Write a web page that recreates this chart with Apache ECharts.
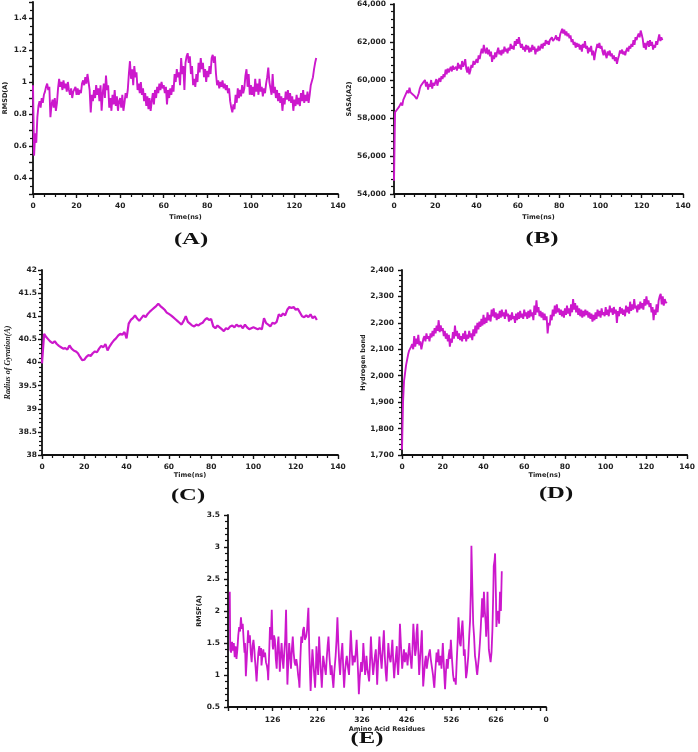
<!DOCTYPE html>
<html>
<head>
<meta charset="utf-8">
<script src="https://cdn.jsdelivr.net/npm/echarts@6/dist/echarts.min.js"></script>
<style>html,body{margin:0;padding:0;background:#fff;}#c{width:698px;height:752px;}</style>
</head>
<body>
<div id="c"></div>
<script>
// ---- DATA ----
const timeStepFine = 0.5;   // ns between samples for A, B, D
const timeStepCoarse = 1;   // ns between samples for C

const rmsdA = [
0.98,0.54,0.68,0.62,0.78,0.85,0.88,0.84,0.90,0.87,
0.92,0.94,0.97,0.99,0.95,0.97,0.78,0.86,0.89,0.84,
0.90,0.82,0.87,0.96,1.02,0.97,1.00,0.95,1.01,0.96,
0.99,0.94,1.00,0.95,0.92,0.96,0.90,0.94,0.93,0.97,
0.92,0.96,0.92,0.95,0.93,0.99,1.01,0.98,1.03,0.99,
1.05,1.00,0.95,0.81,0.92,0.88,0.95,0.90,0.98,0.92,
0.96,0.88,0.98,0.82,0.93,0.99,0.90,1.04,0.95,0.98,
0.84,0.90,0.82,0.92,0.86,0.95,0.85,0.91,0.82,0.88,
0.90,0.84,0.92,0.82,0.87,0.93,0.90,0.95,1.05,1.13,
1.02,1.08,0.98,1.10,1.03,1.06,0.95,0.99,0.93,1.00,
0.92,0.96,0.88,0.93,0.85,0.91,0.83,0.90,0.82,0.88,
0.93,0.86,0.95,0.90,0.97,0.93,0.99,0.95,1.00,0.96,
0.98,0.93,0.97,0.86,0.95,0.90,0.96,0.92,0.98,0.94,
1.05,1.00,1.08,1.03,1.06,0.98,1.15,1.05,1.10,0.95,
1.12,1.16,1.18,1.12,1.16,1.05,1.10,0.98,1.02,0.97,
1.05,1.00,1.12,1.06,1.15,1.08,1.12,1.03,1.08,1.00,
1.07,1.03,1.10,1.05,1.15,1.17,1.12,1.16,1.05,0.98,
1.01,0.96,1.00,0.97,1.01,0.96,0.99,0.95,0.98,0.93,
0.96,0.88,0.84,0.81,0.86,0.83,0.92,0.87,0.96,0.90,
0.95,0.91,0.98,0.93,0.96,1.04,1.08,0.97,1.05,0.92,
0.98,0.92,0.97,0.91,1.02,0.94,0.99,0.92,1.02,0.94,
0.97,0.91,0.96,0.93,0.99,1.03,1.09,1.00,0.96,0.92,
1.05,0.93,0.97,0.90,0.95,0.88,0.93,0.87,0.91,0.82,
0.90,0.86,0.94,0.89,0.95,0.88,0.93,0.87,0.91,0.82,
0.89,0.85,0.92,0.86,0.90,0.85,0.93,0.88,0.95,0.87,
0.92,0.88,0.94,0.87,0.92,0.98,0.97,1.03,1.08,1.12,
1.15];

const sasaB = [
54700,58300,58200,58450,58350,58600,58500,58800,58650,58950,
58900,59200,59100,59450,59300,59600,59350,59450,59250,59300,
59150,59250,59000,58950,59300,59550,59700,59600,59850,59750,
60000,59650,59900,59500,59800,59650,60000,59550,59850,59700,
59800,60050,59700,59950,60100,59900,60200,60050,60300,60150,
60550,60300,60600,60400,60500,60700,60450,60750,60550,60650,
60700,60500,60900,60600,60800,60550,61000,60700,60850,61100,
60600,60400,60700,60300,60500,60800,60650,61000,60800,60950,
61100,60900,61300,61100,61400,61650,61400,61850,61550,61400,
61700,61350,61600,61250,61500,60950,61300,61100,61450,61200,
61500,61700,61350,61550,61300,61600,61400,61750,61500,61650,
61400,61700,61550,61900,61650,61800,61600,62050,61800,62150,
61900,62250,61950,61700,61900,61600,61750,61500,61850,61600,
61800,61450,61700,61500,61850,61600,61750,61350,61650,61500,
61800,61550,61700,61900,61650,61950,61800,62100,61900,62050,
61850,62100,62000,62250,62050,61950,62200,62350,62100,62250,
62050,62400,62300,62700,62450,62650,62350,62550,62300,62450,
62200,62350,62000,62150,61850,62000,61700,61950,61750,61900,
61600,61850,61500,61900,61700,62050,61650,61800,61400,61700,
61500,61800,61300,61550,61050,61400,61650,61900,61700,61950,
61650,61800,61500,61300,61600,61350,61150,61500,61300,61550,
61250,61400,61100,61300,61000,61200,60850,61100,61300,61550,
61400,61600,61350,61500,61300,61550,61700,61500,61800,61650,
61900,61750,62100,61850,62250,62100,62300,62450,62250,62600,
62400,62150,61700,61950,61600,61900,62050,61750,62100,61800,
62000,61600,61850,61700,62050,61850,62150,62400,62050,62250,
62100];

const rgC = [
39.98,40.62,40.55,40.50,40.45,40.42,40.46,40.40,40.36,40.33,
40.30,40.31,40.28,40.37,40.30,40.26,40.24,40.20,40.12,40.05,
40.06,40.12,40.16,40.14,40.20,40.24,40.22,40.30,40.36,40.33,
40.40,40.26,40.35,40.42,40.48,40.52,40.58,40.62,40.60,40.66,
40.52,40.84,40.92,40.96,41.02,40.95,40.90,40.96,41.02,40.98,
41.05,41.10,41.14,41.18,41.22,41.27,41.22,41.18,41.14,41.08,
41.05,41.02,40.98,40.94,40.90,40.86,40.82,40.90,41.00,40.88,
40.84,40.80,40.78,40.82,40.80,40.84,40.86,40.92,40.96,40.92,
40.94,40.78,40.74,40.80,40.76,40.72,40.68,40.74,40.72,40.78,
40.80,40.76,40.82,40.78,40.80,40.74,40.82,40.76,40.72,40.74,
40.76,40.74,40.72,40.74,40.72,40.96,40.85,40.82,40.78,40.86,
40.84,40.88,41.04,41.00,41.06,41.02,41.14,41.20,41.18,41.20,
41.14,41.16,41.08,41.00,40.98,41.02,40.98,41.04,40.96,41.00,
40.92];

const hbondD = [
1720,1900,1980,2010,2040,2060,2080,2095,2090,2110,
2120,2100,2150,2110,2140,2120,2155,2115,2130,2100,
2120,2140,2150,2130,2160,2140,2150,2130,2160,2145,
2170,2150,2180,2160,2190,2170,2210,2165,2190,2170,
2180,2150,2170,2140,2160,2130,2155,2110,2140,2125,
2165,2140,2190,2150,2170,2140,2160,2135,2150,2130,
2160,2140,2170,2130,2155,2140,2170,2145,2160,2135,
2175,2150,2190,2160,2200,2175,2205,2185,2215,2190,
2230,2195,2220,2200,2240,2210,2230,2205,2250,2225,
2255,2220,2240,2210,2235,2215,2245,2220,2250,2225,
2240,2215,2250,2225,2235,2205,2230,2210,2240,2215,
2225,2200,2235,2210,2240,2215,2245,2220,2235,2215,
2250,2225,2240,2215,2245,2220,2250,2225,2240,2210,
2265,2230,2285,2240,2260,2225,2245,2220,2240,2210,
2235,2210,2225,2160,2200,2190,2230,2210,2250,2225,
2265,2235,2270,2240,2255,2230,2250,2225,2245,2220,
2255,2230,2265,2235,2255,2225,2270,2240,2290,2250,
2275,2240,2265,2230,2255,2225,2250,2220,2245,2225,
2250,2230,2245,2220,2240,2215,2235,2205,2230,2210,
2240,2215,2250,2225,2245,2220,2255,2230,2240,2225,
2260,2230,2250,2225,2265,2240,2255,2230,2260,2235,
2250,2200,2245,2225,2260,2235,2255,2230,2250,2225,
2265,2240,2260,2235,2280,2245,2270,2250,2290,2255,
2265,2240,2270,2250,2280,2255,2275,2250,2290,2265,
2300,2270,2285,2260,2275,2240,2260,2210,2250,2230,
2270,2240,2285,2300,2310,2270,2300,2265,2290,2275,
2280];

const residuesE = [
30,31,33,35,37,39,41,43,45,47,49,51,53,55,57,59,61,63,64,66,68,70,71,73,75,77,79,81,83,85,86,88,90,92,94,96,98,100,
101,103,105,107,109,111,113,115,116,118,120,122,124,126,127,129,131,133,135,137,139,141,142,144,146,148,150,152,154,156,158,159,
161,163,165,167,169,171,173,175,177,179,181,183,185,186,188,190,192,194,196,198,201,203,205,206,208,210,211,213,215,217,219,221,
223,224,226,228,230,232,234,236,238,239,241,243,245,247,249,251,253,256,258,260,262,264,267,269,271,273,275,277,279,282,284,286,
288,290,292,294,297,299,301,303,305,307,310,312,314,316,318,319,321,324,326,328,329,331,333,335,336,338,340,342,344,346,348,351,
353,355,357,359,360,362,365,367,370,372,375,377,379,381,383,385,387,390,392,394,396,398,400,402,404,405,407,409,411,413,416,418,
420,422,424,426,428,430,432,434,437,439,441,443,445,447,448,450,452,454,456,458,460,462,463,465,467,469,471,473,475,478,480,483,
485,487,488,490,493,495,497,499,502,504,507,509,511,512,514,516,518,520,522,523,525,527,530,532,534,536,538,540,542,544,545,547,
549,551,553,554,556,558,559,561,564,566,568,570,571,573,575,577,579,581,583,584,586,588,590,592,594,595,597,599,601,603,604,606,
607,609,610,612,614,616,618,620,621,623,624,626,627,629,631,633,635,637,639];
const rmsfE = [
2.30,1.40,1.35,1.52,1.38,1.50,1.28,1.45,1.25,1.40,1.62,1.75,1.68,1.90,1.72,1.80,1.55,1.35,1.50,0.98,1.25,1.55,1.70,1.50,1.62,1.35,1.20,1.45,1.55,1.40,1.28,1.10,0.90,1.15,1.35,1.45,1.30,1.42,
1.15,1.30,1.40,1.28,1.35,1.20,1.15,1.05,0.92,1.30,1.75,1.55,2.02,1.45,1.40,1.62,1.55,1.25,1.10,1.45,1.60,1.25,1.05,1.30,1.50,1.25,1.10,1.35,1.55,2.02,1.20,0.85,
1.20,1.50,1.30,1.10,1.40,1.60,1.35,1.20,1.15,1.25,1.15,1.00,0.90,0.80,1.25,1.60,1.50,1.70,1.75,1.55,1.60,1.70,1.95,2.05,1.40,0.95,0.75,1.10,1.40,1.20,1.00,0.80,
1.15,1.45,1.20,1.00,1.60,1.30,1.05,0.80,1.10,1.30,1.20,1.10,1.00,1.25,1.45,1.60,1.30,1.00,1.15,0.95,0.80,1.05,1.30,1.55,1.90,1.50,1.20,1.00,1.25,1.50,1.10,0.80,
1.05,1.20,1.30,1.15,1.00,1.35,1.70,1.40,1.15,1.30,1.20,1.35,1.55,1.25,0.90,0.70,0.95,1.20,1.05,1.30,1.50,1.25,1.00,1.15,1.30,1.10,1.00,0.90,1.20,1.60,1.30,1.00,
1.15,1.30,1.40,1.05,0.85,1.20,1.60,1.35,1.10,1.35,1.70,1.30,1.05,0.90,1.20,1.50,1.30,1.20,1.35,1.55,1.20,0.95,1.15,1.30,1.45,1.20,1.00,1.30,1.80,1.50,1.10,1.25,
1.40,1.20,1.35,1.30,1.15,1.35,1.50,1.30,1.10,1.40,1.80,1.55,1.30,1.40,1.65,1.80,1.40,1.00,1.25,1.45,1.70,1.10,0.82,1.00,1.20,1.30,1.10,1.20,1.30,1.40,1.25,1.10,
1.00,0.85,0.80,1.05,1.35,1.20,1.40,1.15,1.30,1.10,1.50,1.20,0.90,0.78,1.05,1.25,1.10,1.30,1.40,1.25,1.55,1.30,1.00,0.90,0.95,0.85,1.20,1.50,1.90,1.65,1.50,1.45,
1.70,1.85,1.55,1.30,1.40,1.10,0.95,1.05,1.30,1.60,1.85,2.40,3.02,2.40,1.80,1.60,1.30,1.20,1.05,1.00,1.15,1.30,1.50,1.75,2.05,2.20,1.90,2.30,2.00,1.80,1.60,1.90,
2.30,1.70,1.40,1.30,1.20,1.35,1.70,2.30,2.70,2.80,2.90,2.20,1.75,1.95,2.00,1.80,2.30,2.00,2.62];

const panelLabels = ['(A)','(B)','(C)','(D)','(E)'];
const yNames = ['RMSD(A)','SASA(A2)','Radius of Gyration(A)','Hydrogen bond','RMSF(A)'];
const xNames = ['Time(ns)','Time(ns)','Time(ns)','Time(ns)','Amino Acid Residues'];

// ---- CHART ----
const LINE = '#cc18cc';
const AX = '#111';
const chart = echarts.init(document.getElementById('c'), null, {renderer:'canvas'});

const grids = [
  {left:33, top:2, width:305, height:192},
  {left:394, top:4, width:289, height:190},
  {left:42, top:270, width:296, height:185},
  {left:402, top:270, width:289, height:185},
  {left:228, top:515, width:318, height:192}
];

function baseAxis(extra) {
  return Object.assign({
    type:'value',
    axisLine:{show:true, onZero:false, lineStyle:{color:AX, width:1.8}},
    axisTick:{show:true, inside:false, length:4, lineStyle:{color:AX, width:1.4}},
    minorTick:{show:true, length:3, lineStyle:{color:AX, width:1.2}},
    splitLine:{show:false},
    minorSplitLine:{show:false},
    axisLabel:{fontSize:7.5, fontWeight:'bold', color:'#222', fontFamily:'DejaVu Sans'},
    nameLocation:'middle',
    nameTextStyle:{fontSize:6.5, fontWeight:'bold', color:'#222', fontFamily:'DejaVu Sans'}
  }, extra);
}

const timeX = (i, gap, margin) => baseAxis({
  gridIndex:i, min:0, max:140, interval:20,
  minorTick:{show:true, splitNumber:4, length:3, lineStyle:{color:AX, width:1.2}},
  axisLabel:{fontSize:7.5, fontWeight:'bold', color:'#222', fontFamily:'DejaVu Sans', margin:margin},
  name:xNames[i], nameGap:gap
});

const fmtComma = v => Math.round(v).toLocaleString('en-US');

const eMin = 26, eMax = 738;

const xAxes = [
  timeX(0, 20, 8),
  timeX(1, 20, 8),
  timeX(2, 17, 8),
  timeX(3, 16, 8),
  baseAxis({gridIndex:4, min:eMin, max:eMax, interval:100,
    minorTick:{show:true, splitNumber:5, length:3, lineStyle:{color:AX, width:1.2}},
    axisLabel:{fontSize:7.5, fontWeight:'bold', color:'#222', fontFamily:'DejaVu Sans', margin:9,
      showMinLabel:true, showMaxLabel:true,
      formatter: v => (v === eMin ? '' : (v === eMax ? '0' : (v > 700 ? '' : String(v))))},
    name:xNames[4], nameGap:19})
];

const yAxes = [
  baseAxis({gridIndex:0, min:0.3, max:1.5, interval:0.1,
    minorTick:{show:true, splitNumber:2, length:3, lineStyle:{color:AX, width:1.2}},
    axisLabel:{fontSize:7.5, fontWeight:'bold', color:'#222', fontFamily:'DejaVu Sans', margin:6,
      formatter: v => { const r = Math.round(v*10); return (r % 2 === 0 && r >= 4 && r <= 14) ? String(r/10) : ''; }},
    name:yNames[0], nameGap:24}),
  baseAxis({gridIndex:1, min:54000, max:64000, interval:2000,
    minorTick:{show:true, splitNumber:5, length:3, lineStyle:{color:AX, width:1.2}},
    axisLabel:{fontSize:7.5, fontWeight:'bold', color:'#222', fontFamily:'DejaVu Sans', margin:8, formatter:fmtComma},
    name:yNames[1], nameGap:39}),
  baseAxis({gridIndex:2, min:38, max:42, interval:0.5,
    minorTick:{show:true, splitNumber:5, length:3, lineStyle:{color:AX, width:1.2}},
    axisLabel:{fontSize:7.5, fontWeight:'bold', color:'#222', fontFamily:'DejaVu Sans', margin:5},
    name:yNames[2], nameGap:30,
    nameTextStyle:{fontSize:8, fontWeight:'bold', fontStyle:'italic', color:'#222', fontFamily:'Liberation Serif'}}),
  baseAxis({gridIndex:3, min:1700, max:2400, interval:100,
    minorTick:{show:true, splitNumber:5, length:3, lineStyle:{color:AX, width:1.2}},
    axisLabel:{fontSize:7.5, fontWeight:'bold', color:'#222', fontFamily:'DejaVu Sans', margin:8, formatter:fmtComma},
    name:yNames[3], nameGap:34}),
  baseAxis({gridIndex:4, min:0.5, max:3.5, interval:0.5,
    minorTick:{show:true, splitNumber:5, length:3, lineStyle:{color:AX, width:1.2}},
    axisLabel:{fontSize:7.5, fontWeight:'bold', color:'#222', fontFamily:'DejaVu Sans', margin:8},
    name:yNames[4], nameGap:22})
];

function lineSeries(idx, data, width) {
  return {type:'line', xAxisIndex:idx, yAxisIndex:idx, data:data, showSymbol:false, symbol:'none',
    silent:true, lineStyle:{color:LINE, width:width}, z:1};
}

const series = [
  lineSeries(0, rmsdA.map((v,i)=>[i*timeStepFine, v]), 1.9),
  lineSeries(1, sasaB.map((v,i)=>[i*timeStepFine, v]), 1.9),
  lineSeries(2, rgC.map((v,i)=>[i*timeStepCoarse, v]), 2.2),
  lineSeries(3, hbondD.map((v,i)=>[i*timeStepFine, v]), 1.9),
  lineSeries(4, residuesE.map((r,i)=>[r, rmsfE[i]]), 1.8)
];

const labelPos = [[191,240],[542,239],[188,496],[556,494],[367,739]];
const graphic = panelLabels.map((t,i)=>({
  type:'text', x:labelPos[i][0], y:labelPos[i][1], scaleX:1.45, scaleY:1,
  style:{text:t, font:'bold 17px "Liberation Serif"', fill:'#111', align:'center', verticalAlign:'middle'}
}));

chart.setOption({
  animation:false,
  backgroundColor:'#fff',
  grid:grids,
  xAxis:xAxes,
  yAxis:yAxes,
  series:series,
  graphic:graphic
});
</script>
</body>
</html>
